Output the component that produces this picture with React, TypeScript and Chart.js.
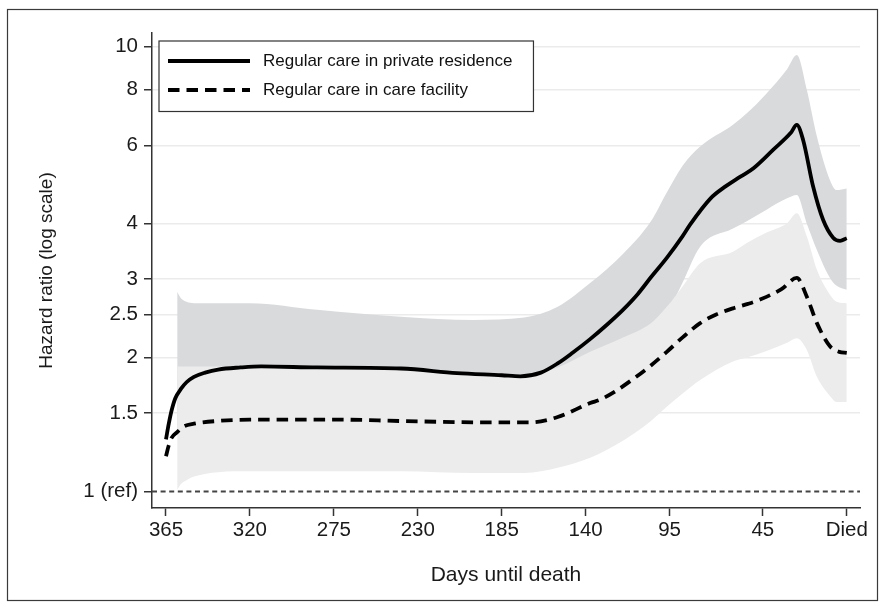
import React, { useEffect, useRef } from "react";
import { Chart, registerables } from "chart.js";

Chart.register(...registerables);

const FONT = "'Liberation Sans', Arial, Helvetica, sans-serif";

// Axis ticks
const xTickValues = [365, 320, 275, 230, 185, 140, 95, 45, 0];
const xTickLabels = ["365", "320", "275", "230", "185", "140", "95", "45", "Died"];
const yTickValues = [1, 1.5, 2, 2.5, 3, 4, 6, 8, 10];
const yTickLabels = ["1 (ref)", "1.5", "2", "2.5", "3", "4", "6", "8", "10"];

const seriesNames = ["Regular care in private residence", "Regular care in care facility"];

// Confidence bands (days until death)
const bandDays = [359, 357, 354, 350, 337, 320, 284, 239, 200, 173, 155, 137.6, 120, 105, 96.5, 88, 78.6, 61, 53.6, 43, 32, 26.8, 21.4, 16, 9, 5.4, 0];
const privateUpper = [2.81, 2.72, 2.67, 2.65, 2.65, 2.65, 2.56, 2.47, 2.43, 2.46, 2.6, 2.94, 3.42, 4.05, 4.7, 5.4, 5.96, 6.67, 7.08, 7.85, 8.9, 9.57, 7.99, 6.28, 5.01, 4.76, 4.8];
const privateLower = [1.35, 1.36, 1.37, 1.38, 1.4, 1.4, 1.4, 1.39, 1.37, 1.36, 1.4, 1.55, 1.85, 2.2, 2.5, 2.95, 3.55, 3.9, 4.05, 4.3, 4.56, 4.64, 4.0, 3.49, 3.02, 2.9, 2.84];
const facilityUpper = [1.91, 1.91, 1.91, 1.91, 1.91, 1.91, 1.9, 1.88, 1.85, 1.83, 1.9, 2.06, 2.22, 2.39, 2.6, 2.89, 3.26, 3.46, 3.62, 3.82, 4.01, 4.22, 3.74, 3.15, 2.77, 2.67, 2.65];
const facilityLower = [1.01, 1.04, 1.06, 1.08, 1.105, 1.11, 1.11, 1.11, 1.1, 1.1, 1.13, 1.19, 1.3, 1.44, 1.55, 1.66, 1.78, 1.96, 2.0, 2.07, 2.16, 2.21, 2.08, 1.81, 1.64, 1.59, 1.59];

// Point estimates
const privateDays = [365, 363.5, 362, 360, 357, 354, 350, 344, 337, 325, 314, 284, 239, 209, 185, 175, 164, 155, 147, 137.6, 128.6, 120, 112, 105, 96.5, 88, 84, 73, 65, 57, 50, 39.5, 30, 26.8, 23.4, 18, 12.7, 7.3, 3.6, 0];
const privateHR = [1.31, 1.42, 1.52, 1.62, 1.7, 1.76, 1.81, 1.85, 1.88, 1.9, 1.91, 1.9, 1.89, 1.845, 1.825, 1.815, 1.85, 1.94, 2.05, 2.2, 2.37, 2.56, 2.78, 3.03, 3.35, 3.75, 3.98, 4.56, 4.85, 5.1, 5.33, 5.86, 6.4, 6.67, 6.17, 4.84, 4.08, 3.72, 3.66, 3.71];
const facilityDays = [365, 363.5, 362, 359, 355.5, 350, 337.6, 320, 302, 270, 239, 191, 170, 155, 137.6, 132, 125, 114.5, 105, 96.5, 88, 78.6, 70, 61, 53, 46.5, 35, 26.8, 21.4, 16, 9, 4, 0];
const facilityHR = [1.2, 1.27, 1.32, 1.36, 1.4, 1.42, 1.44, 1.45, 1.45, 1.45, 1.44, 1.43, 1.43, 1.47, 1.58, 1.61, 1.67, 1.79, 1.92, 2.06, 2.22, 2.39, 2.5, 2.58, 2.64, 2.7, 2.85, 3.02, 2.74, 2.39, 2.12, 2.06, 2.05];

const X_MIN = -7.1;
const X_MAX = 372.5;

const toXY = (xs: number[], ys: number[]) => xs.map((x, i) => ({ x, y: ys[i] }));

const decorPlugin = {
  id: "decor",
  afterDraw(chart: any) {
    const ctx = chart.ctx as CanvasRenderingContext2D;
    const area = chart.chartArea;
    ctx.save();
    // outer frame
    ctx.strokeStyle = "#3a3a3a";
    ctx.lineWidth = 1.2;
    ctx.strokeRect(7.5, 9.5, 870, 591);

    // legend
    const left = area.left + 7;
    const top = area.top + 8;
    const h = 70.5;
    ctx.font = `17px ${FONT}`;
    const textX = left + 104;
    const w = Math.max(...seriesNames.map((n) => ctx.measureText(n).width));
    const right = textX + w + 21;
    ctx.fillStyle = "#ffffff";
    ctx.fillRect(left, top, right - left, h);
    ctx.strokeStyle = "#333333";
    ctx.lineWidth = 1.2;
    ctx.strokeRect(left, top, right - left, h);

    const rows = [top + 20, top + 49];
    ctx.strokeStyle = "#000";
    ctx.lineWidth = 4;
    ctx.lineCap = "butt";
    ctx.beginPath();
    ctx.moveTo(left + 9, rows[0]);
    ctx.lineTo(left + 91, rows[0]);
    ctx.stroke();
    ctx.setLineDash([11.5, 7]);
    ctx.beginPath();
    ctx.moveTo(left + 9, rows[1]);
    ctx.lineTo(left + 91, rows[1]);
    ctx.stroke();
    ctx.setLineDash([]);

    ctx.fillStyle = "#111";
    ctx.textBaseline = "middle";
    ctx.textAlign = "left";
    ctx.fillText(seriesNames[0], textX, rows[0]);
    ctx.fillText(seriesNames[1], textX, rows[1]);
    ctx.restore();
  },
};

export default function App() {
  const canvasRef = useRef<HTMLCanvasElement | null>(null);

  useEffect(() => {
    if (!canvasRef.current) return;
    const chart = new Chart(canvasRef.current, {
      type: "line",
      data: {
        datasets: [
          {
            label: seriesNames[0],
            data: toXY(privateDays, privateHR),
            borderColor: "#000",
            borderWidth: 3.8,
            pointRadius: 0,
            fill: false,
            cubicInterpolationMode: "monotone",
            order: 0,
          } as any,
          {
            label: seriesNames[1],
            data: toXY(facilityDays, facilityHR),
            borderColor: "#000",
            borderWidth: 3.8,
            borderDash: [11.5, 7],
            pointRadius: 0,
            fill: false,
            cubicInterpolationMode: "monotone",
            order: 0,
          } as any,
          {
            label: "ref",
            data: [
              { x: X_MAX, y: 1 },
              { x: X_MIN, y: 1 },
            ],
            borderColor: "#444",
            borderWidth: 2,
            borderDash: [5, 3.6],
            pointRadius: 0,
            fill: false,
            order: 0,
          } as any,
          {
            label: "facilityUpper",
            data: toXY(bandDays, facilityUpper),
            borderColor: "rgba(0,0,0,0)",
            borderWidth: 0,
            backgroundColor: "#ececec",
            pointRadius: 0,
            fill: "+1",
            cubicInterpolationMode: "monotone",
            order: 1,
          } as any,
          {
            label: "facilityLower",
            data: toXY(bandDays, facilityLower),
            borderColor: "rgba(0,0,0,0)",
            borderWidth: 0,
            pointRadius: 0,
            fill: false,
            cubicInterpolationMode: "monotone",
            order: 1,
          } as any,
          {
            label: "privateUpper",
            data: toXY(bandDays, privateUpper),
            borderColor: "rgba(0,0,0,0)",
            borderWidth: 0,
            backgroundColor: "#d9dadc",
            pointRadius: 0,
            fill: "+1",
            cubicInterpolationMode: "monotone",
            order: 2,
          } as any,
          {
            label: "privateLower",
            data: toXY(bandDays, privateLower),
            borderColor: "rgba(0,0,0,0)",
            borderWidth: 0,
            pointRadius: 0,
            fill: false,
            cubicInterpolationMode: "monotone",
            order: 2,
          } as any,
        ],
      },
      options: {
        animation: false,
        responsive: false,
        maintainAspectRatio: false,
        layout: { padding: { top: 33, right: 25, bottom: 0, left: 0 } },
        plugins: {
          legend: { display: false },
          tooltip: { enabled: false },
        },
        scales: {
          x: {
            type: "linear",
            reverse: true,
            min: X_MIN,
            max: X_MAX,
            afterBuildTicks: (scale: any) => {
              scale.ticks = xTickValues.map((v) => ({ value: v }));
            },
            afterFit: (scale: any) => {
              scale.height = 100;
            },
            ticks: {
              autoSkip: false,
              maxRotation: 0,
              padding: 2,
              color: "#1a1a1a",
              font: { family: FONT, size: 20.5 },
              callback: (v: any) => {
                const i = xTickValues.indexOf(Number(v));
                return i >= 0 ? xTickLabels[i] : "";
              },
            },
            grid: {
              drawOnChartArea: false,
              drawTicks: true,
              tickLength: 8,
              tickColor: "#333",
              tickWidth: 1.5,
            },
            border: { display: true, color: "#333", width: 1.5 },
            title: {
              display: true,
              text: "Days until death",
              color: "#1a1a1a",
              font: { family: FONT, size: 21 },
              padding: { top: 0, bottom: 20 },
            },
          },
          y: {
            type: "logarithmic",
            min: 0.918,
            max: 10.73,
            afterBuildTicks: (scale: any) => {
              scale.ticks = yTickValues.map((v) => ({ value: v }));
            },
            afterFit: (scale: any) => {
              scale.width = 152;
            },
            ticks: {
              autoSkip: false,
              padding: 6,
              color: "#1a1a1a",
              font: { family: FONT, size: 20.5 },
              callback: (v: any) => {
                const i = yTickValues.indexOf(Number(v));
                return i >= 0 ? yTickLabels[i] : "";
              },
            },
            grid: {
              color: (c: any) => (c.tick && c.tick.value === 1 ? "rgba(0,0,0,0)" : "#ebebeb"),
              lineWidth: 1.5,
              drawTicks: true,
              tickLength: 8,
              tickColor: "#333",
              tickWidth: 1.5,
            },
            border: { display: true, color: "#333", width: 1.5 },
            title: {
              display: true,
              text: "Hazard ratio (log scale)",
              color: "#1a1a1a",
              font: { family: FONT, size: 19 },
              padding: { top: 35.5, bottom: 0 },
            },
          },
        },
      } as any,
      plugins: [decorPlugin],
    });
    return () => chart.destroy();
  }, []);

  return (
    <div style={{ position: "absolute", left: 0, top: 0, width: 885, height: 608, background: "#fff" }}>
      <canvas ref={canvasRef} width={885} height={608} style={{ display: "block" }} />
    </div>
  );
}
